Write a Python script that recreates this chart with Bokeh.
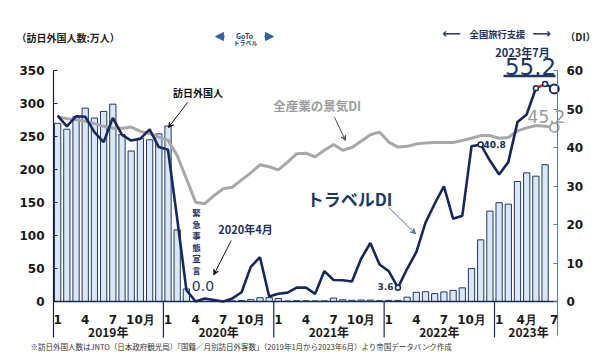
from bokeh.plotting import figure
from bokeh.models import Range1d, LinearAxis, Label, Arrow, VeeHead, NormalHead, FixedTicker
from bokeh.embed import file_html
from bokeh.resources import INLINE

# ---------------- data (Jan 2019 .. Jul 2023) ----------------
months = list(range(55))
visitors = [270, 261, 280, 293, 278, 288, 299, 253, 228, 247, 245, 254,
            266, 108.5, 19, 0.3, 0.2, 0.3, 0.4, 0.9, 1.4, 2.8, 5.7, 5.9,
            4.6, 0.7, 1.2, 1.1, 1.0, 1.0, 5.2, 2.6, 1.8, 2.2, 2.1, 1.2,
            1.7, 1.7, 6.6, 13.9, 14.8, 12.0, 14.5, 16.9, 20.7, 49.9, 93.4, 137.0,
            149.7, 147.5, 181.8, 194.9, 189.9, 207.3]
travel_di = [48.3, 45.5, 48.1, 48.0, 44.0, 41.4, 47.7, 43.3, 41.8, 42.3, 44.7, 40.1,
             39.4, 21.5, 3.0, 0.0, 0.8, 0.4, 0.0, 0.8, 2.4, 9.0, 11.5, 1.3,
             2.0, 2.3, 3.6, 3.6, 2.0, 7.9, 5.6, 5.5, 5.2, 11.1, 15.2, 9.6,
             7.9, 3.6, 8.5, 12.8, 20.5, 25.4, 29.9, 21.5, 22.3, 40.3, 40.8, 36.6,
             33.0, 36.2, 46.6, 48.6, 55.4, 56.5, 55.2]
all_di = [48.0, 47.5, 47.2, 46.8, 46.2, 45.5, 45.0, 45.0, 45.3, 44.2, 43.6, 42.7,
          41.9, 37.9, 31.9, 25.8, 25.4, 27.5, 29.3, 29.7, 31.6, 33.4, 35.5, 35.0,
          34.2, 36.2, 38.4, 38.5, 37.6, 39.3, 40.8, 39.3, 40.0, 41.6, 43.3, 44.0,
          41.4, 40.1, 40.3, 40.9, 41.2, 41.3, 41.3, 41.3, 41.8, 42.4, 43.1, 43.1,
          42.4, 42.6, 44.3, 45.1, 45.7, 45.5, 45.2]
month_ticks = [0, 3, 6, 9, 12, 15, 18, 21, 24, 27, 30, 33, 36, 39, 42, 45, 48, 51, 54]
month_labels = ["1", "4", "7", "10月"] * 4 + ["1", "4月", "7"]
years = ["2019年", "2020年", "2021年", "2022年", "2023年"]
year_centers = [5.5, 17.5, 29.5, 41.5, 51.2]
year_bounds = [11.5, 23.5, 35.5, 47.5]
left_ticks = [0, 50, 100, 150, 200, 250, 300, 350]
right_ticks = [0, 10, 20, 30, 40, 50, 60]
marked = [37, 46, 52, 53]
emergency = ["緊", "急", "事", "態", "宣", "言"]

NAVY = "#17295a"
GRAY = "#a8a8a8"
JP = "Noto Sans CJK JP"
NUM = "DejaVu Sans"

W, H = 608, 356
X0, X1 = -0.45, 54.35          # data span between the two y axes
SX = (X1 - X0) / 504.0         # data units per pixel (x)
XS = X0 - 53 * SX
SY = 350 / 231.0               # left-axis units per pixel
YE = 301 * SY
SD = 60 / 231.0                # DI units per pixel
DE = 301 * SD

p = figure(width=W, height=H, x_range=Range1d(XS, XS + W * SX),
           y_range=Range1d(YE - H * SY, YE),
           output_backend="svg", toolbar_location=None,
           min_border=0, min_border_left=0, min_border_right=0,
           min_border_top=0, min_border_bottom=0)
p.extra_y_ranges = {"di": Range1d(DE - H * SD, DE)}
p.grid.visible = False
p.outline_line_color = None


def dx(px):
    return XS + px * SX


def dy(py):
    return (301 - py) * SY


# axes (fixed inside the full-canvas frame)
ya = p.yaxis[0]
ya.fixed_location = X0
ya.bounds = (0, 350)
ya.ticker = FixedTicker(ticks=left_ticks)
ya.axis_line_color = "#1b1f33"
ya.axis_line_width = 1.2
ya.major_tick_in = 4
ya.major_tick_out = 0
ya.major_tick_line_color = "#1b1f33"
ya.minor_tick_line_color = None
ya.major_label_text_font = NUM
ya.major_label_text_font_size = "12px"
ya.major_label_text_font_style = "bold"
ya.major_label_text_color = "#1a1a1a"
ya.major_label_standoff = 9

ra = LinearAxis(y_range_name="di", ticker=FixedTicker(ticks=right_ticks),
                fixed_location=X1, bounds=(0, 60))
ra.axis_line_color = "#5a7bb0"
ra.major_tick_in = 4
ra.major_tick_out = 0
ra.major_tick_line_color = "#5a7bb0"
ra.minor_tick_line_color = None
ra.major_label_text_font = NUM
ra.major_label_text_font_size = "12px"
ra.major_label_text_font_style = "bold"
ra.major_label_text_color = "#1a1a1a"
ra.major_label_standoff = 9
p.add_layout(ra, "right")

xa = p.xaxis[0]
xa.fixed_location = 0
xa.bounds = (X0, X1)
xa.ticker = FixedTicker(ticks=month_ticks)
xa.major_label_overrides = {t: l for t, l in zip(month_ticks, month_labels)}
xa.major_tick_line_color = None
xa.minor_tick_line_color = None
xa.axis_line_color = NAVY
xa.axis_line_width = 1.5
xa.major_label_text_font = NUM
xa.major_label_text_font_size = "12px"
xa.major_label_text_font_style = "bold"
xa.major_label_text_color = "#1a1a1a"
xa.major_label_standoff = 5

# bars
p.vbar(x=months[:len(visitors)], top=visitors, width=0.68,
       fill_color="#dbe7f7", line_color="#1f3864", line_width=1)

# lines
p.line(months, all_di, y_range_name="di", line_color=GRAY, line_width=3)
p.line(months[:53], travel_di[:53], y_range_name="di", line_color=NAVY, line_width=2.6)
p.line(months[52:54], travel_di[52:54], y_range_name="di", line_color="#e0202a", line_width=2.6)
p.line(months[53:], travel_di[53:], y_range_name="di", line_color=NAVY, line_width=2.6)

p.scatter(marked, [travel_di[i] for i in marked], y_range_name="di", size=5,
          fill_color="white", line_color=NAVY, line_width=1.5)
p.scatter([months[-1]], [travel_di[-1]], y_range_name="di", size=9,
          fill_color="white", line_color=NAVY, line_width=2)
p.scatter([months[-1]], [all_di[-1]], y_range_name="di", size=9,
          fill_color="white", line_color=GRAY, line_width=2)

# year separators and axis extensions below the x axis
p.segment(x0=year_bounds, y0=[0] * 4, x1=year_bounds, y1=[dy(337)] * 4,
          line_color=NAVY, line_width=1.2)
p.segment(x0=[X0], y0=[0], x1=[X0], y1=[dy(337)], line_color="#1b1f33", line_width=1.2)
p.segment(x0=[X1], y0=[0], x1=[X1], y1=[dy(335)], line_color="#5a7bb0", line_width=1)

for yl, xc in zip(years, year_centers):
    p.add_layout(Label(x=xc, y=dy(330.5), text=yl, text_font=JP, text_font_size="12px",
                       text_font_style="bold", text_color="#1a1a1a",
                       text_align="center", text_baseline="middle"))


def lab(text, px, py, size, color=NAVY, font=JP, style="bold", align="center",
        baseline="middle", **kw):
    p.add_layout(Label(x=dx(px), y=dy(py), text=text, text_font=font,
                       text_font_size=size, text_font_style=style, text_color=color,
                       text_align=align, text_baseline=baseline, **kw))


def arr(x1, y1, x2, y2, color, width=1, head=5, kind="vee"):
    h = (VeeHead(size=head, fill_color=color, line_color=color) if kind == "vee"
         else NormalHead(size=head, fill_color=color, line_color=color))
    p.add_layout(Arrow(x_start=dx(x1), y_start=dy(y1), x_end=dx(x2), y_end=dy(y2),
                       line_color=color, line_width=width, end=h))


lab("（訪日外国人数:万人）", 16, 37, "10px", color="#222222", align="left")
lab("（DI）", 580, 36, "10px", color="#222222")
arr(224, 36, 215, 36, "#3b5fa0", width=2.5, head=8, kind="normal")
lab("GoTo", 244, 35, "7px", color="#2a3f70")
lab("トラベル", 245, 42, "6px", color="#2a3f70")
arr(264, 36, 273, 36, "#3b5fa0", width=2.5, head=8, kind="normal")
lab("⟵", 451, 33, "13px", color="#2a3f70", font=NUM, style="bold")
lab("全国旅行支援", 497, 33, "9.3px", color="#1f3060")
lab("⟶", 541, 33, "13px", color="#2a3f70", font=NUM, style="bold")
lab("2023年7月", 522, 51.5, "11px", color="#1f3060")
lab("55.2", 530, 65.5, "23px", color="#1f3864", font=NUM, style="normal")
p.segment(x0=[dx(503)], y0=[dy(75.5)], x1=[dx(555)], y1=[dy(75.5)],
          line_color="#1f3864", line_width=2.5)
lab("45.2", 546, 116, "17px", color="#9a9a9a", font=NUM, style="normal")
lab("40.8", 483, 143.7, "9px", color=NAVY, font=NUM, align="left")
lab("3.6", 393, 286, "9px", color="#2a3555", font=NUM, align="right")
lab("0.0", 202.5, 285, "14px", color="#1f3864", font=NUM, style="normal")
lab("2020年4月", 245, 228.8, "11px", color="#1f3060")
for k, ch in enumerate(emergency):
    lab(ch, 196, 211.5 + 11.5 * k, "8.5px", color="#1f3060")
lab("訪日外国人", 197.5, 92, "10px", color="#111111")
lab("全産業の景気DI", 316.7, 104.7, "12.5px", color="#9d9d9d")
lab("トラベルDI", 349, 197.5, "17px", color="#1f3864")
lab("※訪日外国人数はJNTO（日本政府観光局）「国籍／月別訪日外客数」（2019年1月から2023年6月）より帝国データバンク作成",
    30, 345.7, "7.5px", color="#333333", style="normal", align="left")

arr(230.7, 240, 213.3, 274.3, "#1a1a1a")
arr(187, 102, 168, 127, "#1a1a1a")
arr(334, 116.7, 345, 140, "#555555")
arr(388, 206.7, 415, 233.3, "#5a6f9a")

open("out.html", "w").write(file_html(p, INLINE))
